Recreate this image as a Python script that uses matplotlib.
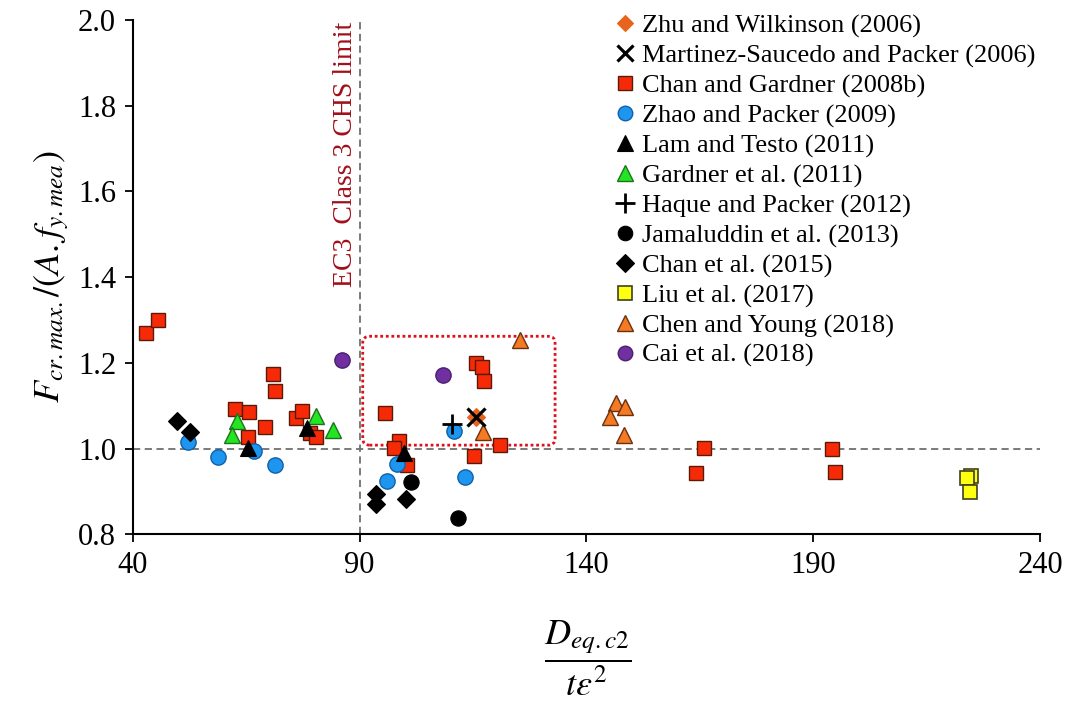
import matplotlib
matplotlib.use("Agg")
import matplotlib.pyplot as plt
import matplotlib.patches as mpatches
from matplotlib.lines import Line2D

plt.rcParams['font.family'] = ['Liberation Serif', 'DejaVu Serif']
plt.rcParams['mathtext.fontset'] = 'stix'

# ---- data ----
zhu_x = [115.6]; zhu_y = [1.074]
mart_x = [115.6]; mart_y = [1.074]
chan08_x = [43.0, 45.5, 70.9, 71.4, 62.5, 65.6, 69.2, 65.5, 76.1, 77.4, 79.1, 80.3,
            95.5, 115.6, 117.0, 117.4, 121.0, 115.3, 98.8, 97.6, 100.5, 166.0, 164.1, 194.1, 194.8]
chan08_y = [1.269, 1.300, 1.173, 1.135, 1.092, 1.085, 1.050, 1.026, 1.072, 1.087, 1.037, 1.028,
            1.082, 1.199, 1.190, 1.157, 1.009, 0.983, 1.018, 1.001, 0.961, 1.001, 0.944, 0.998, 0.946]
zhao_x = [52.1, 58.9, 66.7, 71.4, 98.2, 96.1, 110.8, 113.3]
zhao_y = [1.015, 0.980, 0.995, 0.961, 0.964, 0.924, 1.041, 0.934]
lam_x = [65.5, 78.4, 99.7]; lam_y = [1.001, 1.047, 0.989]
gard_x = [62.9, 61.9, 80.3, 84.2]; gard_y = [1.064, 1.032, 1.077, 1.043]
haque_x = [110.4]; haque_y = [1.057]
jam_x = [101.3, 111.8]; jam_y = [0.922, 0.838]
chan15_x = [49.7, 52.7, 93.6, 93.6, 100.2]; chan15_y = [1.065, 1.039, 0.893, 0.870, 0.882]
liu_x = [224.8, 223.8, 224.5]; liu_y = [0.937, 0.931, 0.899]
chen_x = [117.3, 125.4, 146.5, 148.6, 145.2, 148.3]
chen_y = [1.039, 1.253, 1.107, 1.098, 1.073, 1.031]
cai_x = [86.2, 108.3]; cai_y = [1.206, 1.172]

labels = ["Zhu and Wilkinson (2006)", "Martinez-Saucedo and Packer (2006)",
          "Chan and Gardner (2008b)", "Zhao and Packer (2009)", "Lam and Testo (2011)",
          "Gardner et al. (2011)", "Haque and Packer (2012)", "Jamaluddin et al. (2013)",
          "Chan et al. (2015)", "Liu et al. (2017)", "Chen and Young (2018)", "Cai et al. (2018)"]

xticks = [40, 90, 140, 190, 240]
yticks = [0.8, 1.0, 1.2, 1.4, 1.6, 1.8, 2.0]

fig = plt.figure(figsize=(10.67, 7.10), dpi=100)
ax = fig.add_axes([0.1244, 0.2475, 0.8503, 0.7243])
ax.set_xlim(40, 240)
ax.set_ylim(0.8, 2.0)

# reference lines
ax.axhline(1.0, color='#707070', lw=1.3, ls=(0, (4, 2.5)), zorder=1)
ax.axvline(90, color='#707070', lw=1.3, ls=(0, (4, 2.5)), zorder=1)

# highlight box
box = mpatches.FancyBboxPatch((90.7, 1.008), 133.1 - 90.7, 1.262 - 1.008,
                              boxstyle="round,pad=0,rounding_size=1.5",
                              mutation_aspect=0.0106, fill=False,
                              edgecolor='#e0101a', lw=2.0, ls=(0, (1, 1)), zorder=2)
ax.add_patch(box)

ms = 10.5
styles = [
    dict(marker='D', color='#e8641e', mec='#e8641e', ms=9, mew=0.8),        # Zhu
    dict(marker='x', color='black', mec='black', ms=12.5, mew=2.3),         # Martinez
    dict(marker='s', color='#f72a08', mec='#5a1a08', ms=ms, mew=1.0),       # Chan08
    dict(marker='o', color='#1e96f0', mec='#1060a8', ms=ms + 0.5, mew=1.0), # Zhao
    dict(marker='^', color='black', mec='black', ms=ms + 1, mew=0.8),       # Lam
    dict(marker='^', color='#22e622', mec='#207020', ms=ms + 1, mew=1.0),   # Gardner
    dict(marker='+', color='black', mec='black', ms=15, mew=2.0),           # Haque
    dict(marker='o', color='black', mec='black', ms=ms + 0.5, mew=0.8),     # Jamaluddin
    dict(marker='D', color='black', mec='black', ms=9.5, mew=0.8),          # Chan15
    dict(marker='s', color='#ffff10', mec='#404020', ms=ms, mew=1.2),       # Liu
    dict(marker='^', color='#f47a24', mec='#6a3010', ms=ms + 1, mew=1.0),   # Chen
    dict(marker='o', color='#7030a0', mec='#4a2070', ms=ms + 0.5, mew=1.0), # Cai
]
series = [(zhu_x, zhu_y), (mart_x, mart_y), (chan08_x, chan08_y), (zhao_x, zhao_y),
          (lam_x, lam_y), (gard_x, gard_y), (haque_x, haque_y), (jam_x, jam_y),
          (chan15_x, chan15_y), (liu_x, liu_y), (chen_x, chen_y), (cai_x, cai_y)]
order = [2, 3, 5, 4, 8, 7, 9, 10, 11, 0, 1, 6]
for i in order:
    xs, ys = series[i]
    st = styles[i]
    ax.plot(xs, ys, ls='none', marker=st['marker'], mfc=st['color'], mec=st['mec'],
            ms=st['ms'], mew=st['mew'], zorder=3 + order.index(i) * 0.01, clip_on=False)

handles = []
for i, st in enumerate(styles):
    handles.append(Line2D([], [], ls='none', marker=st['marker'], mfc=st['color'],
                          mec=st['mec'], ms=st['ms'] * 0.95, mew=st['mew']))
leg = ax.legend(handles, labels, loc='upper left', bbox_to_anchor=(614 / 1067, 1 - 14 / 710),
                bbox_transform=fig.transFigure, frameon=False, fontsize=19,
                handlelength=0.8, handletextpad=0.25, labelspacing=0.23,
                borderpad=0, borderaxespad=0)

ax.text(87.0, 1.995, 'EC3  Class 3 CHS limit', rotation=90, ha='center', va='top',
        color='#a0101a', fontsize=20)

ax.set_xticks(xticks)
ax.set_yticks(yticks)
ax.set_xticklabels([str(v) for v in xticks])
ax.set_yticklabels([f"{v:.1f}" for v in yticks])
ax.tick_params(axis='both', direction='out', length=6, width=1.3, labelsize=22, pad=6)
for s in ['top', 'right']:
    ax.spines[s].set_visible(False)
for s in ['left', 'bottom']:
    ax.spines[s].set_linewidth(1.5)

ax.set_ylabel(r'$F_{cr.max.}/(A.f_{y.mea})$', fontsize=26, labelpad=5)
fig.text(0.5505, 1 - 658 / 710, r'$\dfrac{D_{eq.c2}}{t\varepsilon^{2}}$', fontsize=26,
         ha='center', va='center')

fig.savefig('out.png', dpi=100)
